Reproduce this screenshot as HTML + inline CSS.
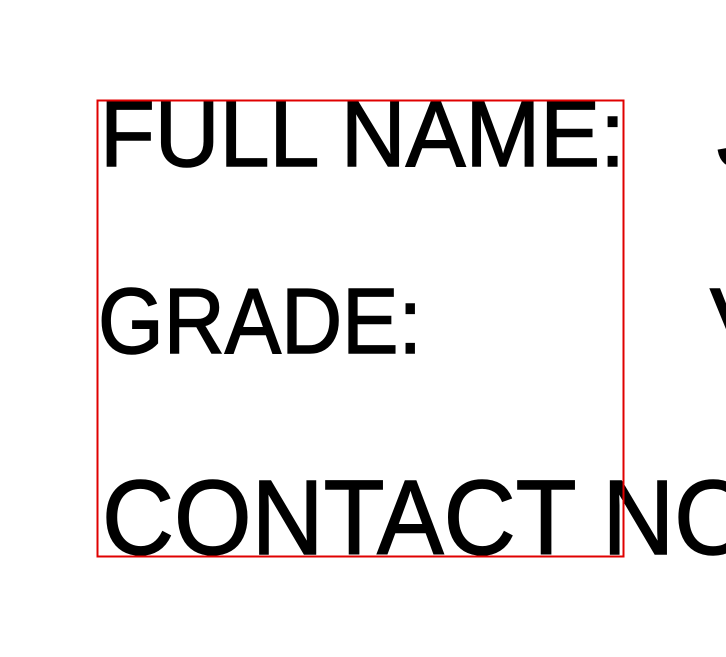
<!DOCTYPE html>
<html><head><style>html,body{margin:0;padding:0;background:#fff;overflow:hidden}</style></head>
<body>
<svg width="726" height="657" xmlns="http://www.w3.org/2000/svg" style="display:block">
<g font-family="Liberation Sans, sans-serif" fill="#000" stroke="#000" stroke-width="1.5">
<text x="100" y="166" font-size="93" textLength="525" lengthAdjust="spacingAndGlyphs">FULL NAME:</text>
<text x="717" y="166" font-size="93">J</text>
<text x="98" y="353" font-size="93" textLength="324" lengthAdjust="spacingAndGlyphs">GRADE:</text>
<text x="710" y="353" font-size="93">V</text>
<text x="102" y="554" font-size="106" textLength="650" lengthAdjust="spacingAndGlyphs">CONTACT NO</text>
</g>
<rect x="97.5" y="100.5" width="526" height="456" fill="none" stroke="#e00000" stroke-width="2"/>
</svg>
</body></html>
